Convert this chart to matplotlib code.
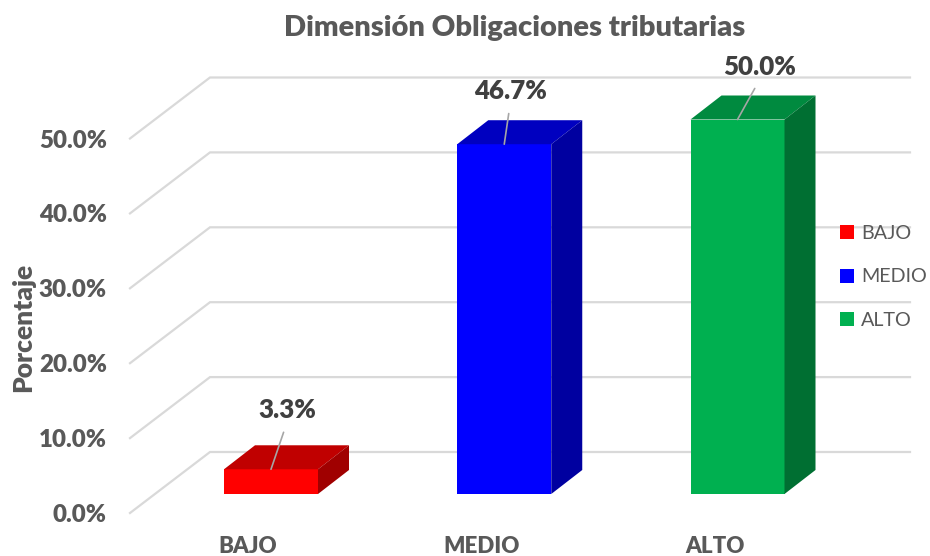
import matplotlib
matplotlib.use("Agg")
import matplotlib.pyplot as plt
from matplotlib.patches import Polygon, Patch

plt.rcParams['font.family'] = ['Lato', 'DejaVu Sans']

categories = ['BAJO', 'MEDIO', 'ALTO']
values = [3.3, 46.7, 50.0]
labels = ['3.3%', '46.7%', '50.0%']
y_levels = [0, 10, 20, 30, 40, 50]
y_ticklabels = ['0.0%', '10.0%', '20.0%', '30.0%', '40.0%', '50.0%']
front_colors = ['#ff0000', '#0000ff', '#00b050']
top_colors = ['#c00000', '#0000c0', '#008a3f']
side_colors = ['#a00000', '#0000a0', '#006f32']
label_offsets_px = [(16, 59), (6, 53), (22.5, 52.5)]

W, H = 930, 556
PX_X = 233.25            # pixels per category
PX_Y = 7.49              # pixels per percent
X0_PX, Y0_PX = 271, 494  # pixel of first category centre / zero level at the bar front
BAR_W = 94 / PX_X
DX, DY = 31 / PX_X, 24 / PX_Y
FLOOR_FRONT = (494 - 513) / PX_Y
FLOOR_BACK = (494 - 452) / PX_Y
GRID_X = [(130 - X0_PX) / PX_X, (210 - X0_PX) / PX_X, (910 - X0_PX) / PX_X]
TICK_SHIFT = 23 / PX_X
HEAVY = 'heavy'

fig = plt.figure(figsize=(W / 100, H / 100), dpi=100)
L, R, T, B = 120, 930, 0, 525
ax = fig.add_axes([L / W, 1 - B / H, (R - L) / W, (B - T) / H])
ax.set_xlim((L - X0_PX) / PX_X, (R - X0_PX) / PX_X)
ax.set_ylim((Y0_PX - B) / PX_Y, (Y0_PX - T) / PX_Y)
for s in ax.spines.values():
    s.set_visible(False)

# walls
for lv in y_levels:
    ax.plot(GRID_X, [lv + FLOOR_FRONT, lv + FLOOR_BACK, lv + FLOOR_BACK],
            color='#d9d9d9', lw=1.6, solid_joinstyle='miter', zorder=1)

# bars
for i, v in enumerate(values):
    x0, x1 = i - BAR_W / 2, i + BAR_W / 2
    ax.add_patch(Polygon([(x0, 0), (x1, 0), (x1, v), (x0, v)], fc=front_colors[i], ec='none', zorder=3))
    ax.add_patch(Polygon([(x0, v), (x1, v), (x1 + DX, v + DY), (x0 + DX, v + DY)], fc=top_colors[i], ec='none', zorder=3))
    ax.add_patch(Polygon([(x1, 0), (x1 + DX, DY), (x1 + DX, v + DY), (x1, v)], fc=side_colors[i], ec='none', zorder=3))
    ox, oy = label_offsets_px[i]
    ax.annotate(labels[i], xy=(i, v), xytext=(ox * 0.72, oy * 0.72), textcoords='offset points',
                ha='center', va='center', fontsize=18.6, fontweight=HEAVY, color='#404040', zorder=5,
                arrowprops=dict(arrowstyle='-', color='#a6a6a6', lw=1.2, shrinkA=5.5, shrinkB=0, relpos=(0.5, 0)))

ax.set_xticks([i - TICK_SHIFT for i in range(len(categories))], categories)
ax.set_yticks([lv + FLOOR_FRONT for lv in y_levels], y_ticklabels)
ax.tick_params(length=0)
ax.tick_params(axis='x', pad=8, labelsize=16, labelcolor='#595959')
ax.tick_params(axis='y', pad=9.5, labelsize=17.4, labelcolor='#595959')
for t in ax.get_xticklabels() + ax.get_yticklabels():
    t.set_fontweight(HEAVY)

fig.text(23 / W, 1 - 327 / H, 'Porcentaje', rotation=90, ha='center', va='center',
         fontsize=19, fontweight=HEAVY, color='#595959')
fig.text(515 / W, 1 - 28 / H, 'Dimensión Obligaciones tributarias', ha='center', va='center',
         fontsize=21, fontweight=HEAVY, color='#595959')

handles = [Patch(fc=c, ec='none') for c in front_colors]
leg = ax.legend(handles, categories, loc='center left', bbox_to_anchor=(834 / W, 1 - 277 / H),
                bbox_transform=fig.transFigure, frameon=False, fontsize=14.2, labelcolor='#595959',
                handlelength=0.71, handleheight=0.71, handletextpad=0.35, labelspacing=1.36,
                borderaxespad=0, borderpad=0.3)
fig.savefig('out.png', dpi=100, facecolor='white')
